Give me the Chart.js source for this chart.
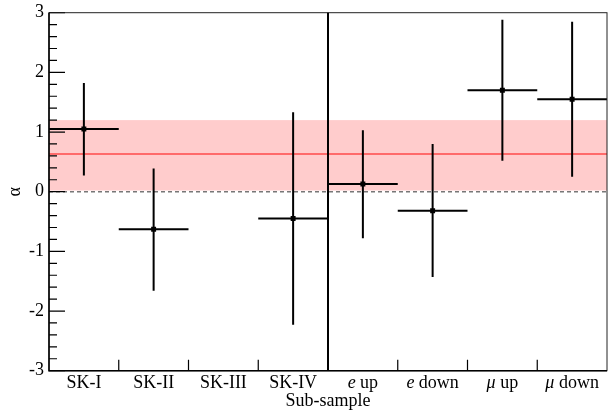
<!DOCTYPE html>
<html><head><meta charset="utf-8">
<script src="https://cdn.jsdelivr.net/npm/chart.js@4/dist/chart.umd.min.js"></script>
<style>html,body{margin:0;padding:0;background:#fff}#wrap{width:613px;height:414px;position:relative}</style>
</head><body><div id="wrap"><canvas id="c"></canvas></div>
<script>
const categories = ["SK-I", "SK-II", "SK-III", "SK-IV", "e up", "e down", "μ up", "μ down"];
const alphaValues = [1.05, -0.63, null, -0.45, 0.13, -0.32, 1.70, 1.55];
const errUp = [0.77, 1.02, null, 1.78, 0.90, 1.12, 1.18, 1.30];
const errDown = [0.78, 1.03, null, 1.78, 0.91, 1.11, 1.18, 1.30];
const combinedAlpha = [0.63];
const combinedBand = [0.02, 1.20];
const yTicks = [-3, -2, -1, 0, 1, 2, 3];
const splitAfter = 3; // divider between SK samples and e/mu samples

const FONT = '"Liberation Serif", "DejaVu Serif", serif';
const FS = 18;

const decor = {
  id: 'decor',
  beforeDatasetsDraw(chart) {
    const {ctx, chartArea: a, scales: {x, y}} = chart;
    ctx.save();
    ctx.fillStyle = '#ffcccc';
    const yb1 = y.getPixelForValue(combinedBand[1]), yb0 = y.getPixelForValue(combinedBand[0]);
    ctx.fillRect(a.left, yb1, a.right - a.left, yb0 - yb1);
    ctx.strokeStyle = '#ff4a4a'; ctx.lineWidth = 1.5;
    const yc = y.getPixelForValue(combinedAlpha[0]);
    ctx.beginPath(); ctx.moveTo(a.left, yc); ctx.lineTo(a.right, yc); ctx.stroke();
    ctx.strokeStyle = '#777'; ctx.lineWidth = 1.5; ctx.setLineDash([4, 3]);
    const y0 = y.getPixelForValue(0);
    ctx.beginPath(); ctx.moveTo(a.left, y0); ctx.lineTo(a.right, y0); ctx.stroke();
    ctx.setLineDash([]);
    const half = (x.getPixelForValue(1) - x.getPixelForValue(0)) / 2;
    ctx.strokeStyle = '#000'; ctx.lineWidth = 2;
    alphaValues.forEach((v, i) => {
      if (v === null) return;
      const cx = x.getPixelForValue(i), cy = y.getPixelForValue(v);
      ctx.beginPath();
      ctx.moveTo(cx - half, cy); ctx.lineTo(cx + half, cy);
      ctx.moveTo(cx, y.getPixelForValue(v + errUp[i])); ctx.lineTo(cx, y.getPixelForValue(v - errDown[i]));
      ctx.stroke();
    });
    ctx.restore();
  },
  afterDraw(chart) {
    const {ctx, chartArea: a, scales: {x, y}} = chart;
    ctx.save();
    ctx.strokeStyle = '#000';
    ctx.lineWidth = 1.2;
    ctx.beginPath();
    for (let k = -15; k <= 15; k++) {
      const py = y.getPixelForValue(k / 5);
      const len = (k % 5 === 0) ? 16 : 8;
      ctx.moveTo(a.left, py); ctx.lineTo(a.left + len, py);
    }
    const half = (x.getPixelForValue(1) - x.getPixelForValue(0)) / 2;
    for (let i = 1; i < categories.length; i++) {
      const px = x.getPixelForValue(i) - half;
      ctx.moveTo(px, a.bottom); ctx.lineTo(px, a.bottom - 11);
    }
    ctx.stroke();
    ctx.lineWidth = 1;
    ctx.strokeStyle = '#222';
    ctx.strokeRect(a.left, a.top, a.right - a.left, a.bottom - a.top);
    ctx.lineWidth = 1.5; ctx.strokeStyle = '#000';
    ctx.beginPath();
    ctx.moveTo(a.left, a.top); ctx.lineTo(a.left, a.bottom); ctx.lineTo(a.right, a.bottom);
    ctx.stroke();
    const dx = x.getPixelForValue(splitAfter) + half;
    ctx.lineWidth = 2;
    ctx.beginPath(); ctx.moveTo(dx, a.top); ctx.lineTo(dx, a.bottom); ctx.stroke();
    ctx.fillStyle = '#000';
    ctx.textBaseline = 'alphabetic';
    ctx.textAlign = 'left';
    const ly = a.bottom + 17.6;
    categories.forEach((lab, i) => {
      const cx = x.getPixelForValue(i);
      let first = '', rest = lab;
      const m = lab.match(/^(e|μ)( .*)$/);
      if (m) { first = m[1]; rest = m[2]; }
      ctx.font = 'italic ' + FS + 'px ' + FONT;
      const w1 = first ? ctx.measureText(first).width : 0;
      ctx.font = FS + 'px ' + FONT;
      const w2 = ctx.measureText(rest).width;
      const sx = cx - (w1 + w2) / 2;
      if (first) { ctx.font = 'italic ' + FS + 'px ' + FONT; ctx.fillText(first, sx, ly); }
      ctx.font = FS + 'px ' + FONT;
      ctx.fillText(rest, sx + w1, ly);
    });
    ctx.restore();
  }
};

new Chart(document.getElementById('c'), {
  type: 'line',
  data: {
    labels: categories,
    datasets: [{
      label: 'α',
      data: alphaValues,
      showLine: false,
      pointStyle: 'rect',
      pointRadius: 3.5,
      pointHoverRadius: 3.5,
      backgroundColor: '#000',
      borderColor: '#000',
      borderWidth: 0
    }]
  },
  options: {
    responsive: true,
    maintainAspectRatio: false,
    animation: false,
    events: [],
    layout: {padding: {left: 0, right: 6, top: 12.7, bottom: 0}},
    plugins: {legend: {display: false}, tooltip: {enabled: false}},
    scales: {
      x: {
        type: 'category',
        offset: true,
        grid: {display: false, drawTicks: false},
        border: {display: false},
        ticks: {display: false},
        title: {display: true, text: 'Sub-sample', color: '#000', font: {family: FONT, size: FS}, padding: {top: 0, bottom: 1.7}},
        afterFit: s => { s.height = 43.3; s.paddingLeft = 0; s.paddingRight = 0; }
      },
      y: {
        type: 'linear',
        min: -3, max: 3,
        afterBuildTicks: s => { s.ticks = yTicks.map(v => ({value: v})); },
        ticks: {color: '#000', font: {family: FONT, size: FS, lineHeight: 1}, padding: 5},
        grid: {display: false, drawTicks: false},
        border: {display: false},
        title: {display: true, text: 'α', color: '#000', font: {family: FONT, size: FS}, padding: {top: 4, bottom: 0}},
        afterFit: s => { s.width = 49; s.paddingTop = 0; s.paddingBottom = 0; }
      }
    }
  },
  plugins: [decor]
});
</script>
</body></html>
